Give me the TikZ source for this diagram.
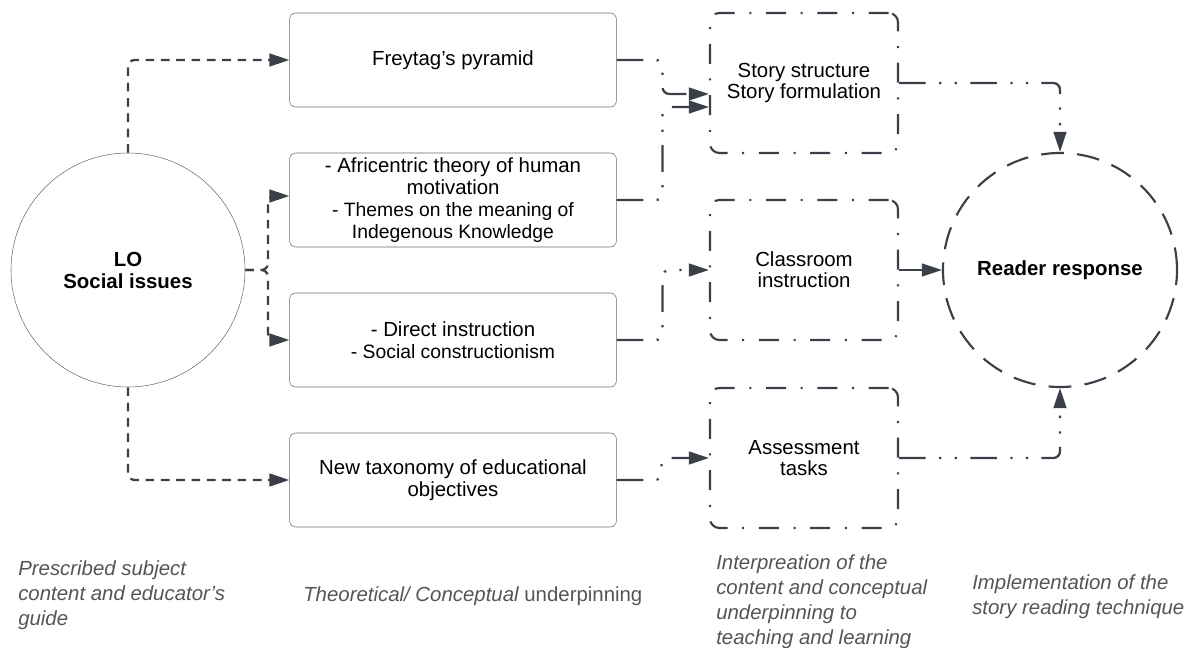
\documentclass[tikz,border=0pt]{standalone}
\usepackage{fontspec}
\setmainfont{Liberation Sans}
\usetikzlibrary{arrows.meta}
\definecolor{linkgray}{HTML}{3B4048}
\definecolor{boxgray}{HTML}{6A6A6A}
\definecolor{notegray}{HTML}{555555}
\tikzset{
    plain-box/.style = {draw=boxgray, fill=white, thin, rectangle, rounded corners=4.5pt, minimum width=245pt, minimum height=70.5pt, align=center, font=\fontsize{15.3}{16.5}\selectfont},
    dashdot-box/.style = {draw=linkgray, line width=1.6pt, rectangle, rounded corners=7pt, minimum width=141pt, minimum height=105pt, align=center, font=\fontsize{15.3}{16}\selectfont, dash pattern=on 15pt off 11pt on 1.5pt off 11pt},
    lo-circle/.style = {draw=boxgray, fill=white, thin, circle, minimum size=175.5pt, inner sep=0pt, align=center, font=\bfseries\fontsize{15.3}{16.5}\selectfont},
    reader-circle/.style = {draw=linkgray, line width=1.6pt, circle, minimum size=175.5pt, inner sep=0pt, dash pattern=on 17pt off 10pt, font=\bfseries\fontsize{15.3}{16.5}\selectfont},
    dashed-link/.style = {draw=linkgray, line width=1.7pt, dash pattern=on 6.5pt off 5pt, rounded corners=5pt, -{Triangle[length=15pt,width=9.5pt]}},
    dashdot-link/.style = {draw=linkgray, line width=1.7pt, dash pattern=on 20pt off 10pt on 1.7pt off 10pt on 1.7pt off 10pt, rounded corners=5pt, -{Triangle[length=15pt,width=9.5pt]}},
    note-text/.style = {text=notegray, anchor=north west, inner sep=0pt, align=left, font=\itshape\fontsize{15.3}{18.75}\selectfont},
}

\begin{document}
\begin{tikzpicture}[x=0.75pt, y=-0.75pt]
\useasboundingbox (0,0) rectangle (1196,648);

% left column
\node[lo-circle] (lo) at (128,270) {LO\\Social issues};

\node[plain-box] (freytag) at (453,60) {Freytag's pyramid};
\node[plain-box] (africentric) at (453,200) {- Africentric theory of human\\motivation\\
    \fontsize{14.5}{16.5}\selectfont - Themes on the meaning of\\
    \fontsize{14.5}{16.5}\selectfont Indegenous Knowledge};
\node[plain-box] (direct) at (453,340) {- Direct instruction\\
    \fontsize{14.5}{16.5}\selectfont - Social constructionism};
\node[plain-box] (taxonomy) at (453,480) {New taxonomy of educational\\objectives};

% interpretation column
\node[dashdot-box] (story) at (804,83) {Story structure\\Story formulation};
\node[dashdot-box] (classroom) at (804,270) {Classroom\\instruction};
\node[dashdot-box] (assessment) at (804,458) {Assessment\\tasks};

\node[reader-circle] (reader) at (1060,270) {Reader response};

% links from LO
\coordinate (fork) at (268,270);
\draw[dashed-link] (lo.north) |- (freytag.west);
\draw[dashed-link] (lo.east) -- (fork) |- ([yshift=3pt]africentric.west);
\draw[dashed-link] (lo.east) -- (fork) |- (direct.west);
\draw[dashed-link] (lo.south) |- (taxonomy.west);

% links to interpretation
\draw[dashdot-link] (freytag.east) -- ++(46,0) |- ([yshift=-8.25pt]story.west);
\draw[dashdot-link] (africentric.east) -- ++(46,0) |- ([yshift=-18pt]story.west);
\draw[dashdot-link] (direct.east) -- ++(46,0) |- (classroom.west);
\draw[dashdot-link] (taxonomy.east) -- ++(45,0) |- (assessment.west);

% links to reader response
\draw[dashdot-link] (story.east) -| (reader.north);
\draw[draw=linkgray, line width=1.7pt, -{Triangle[length=15pt,width=9.5pt]}] (classroom.east) -- (reader.west);
\draw[dashdot-link] (assessment.east) -| (reader.south);

% column notes
\node[note-text] (subject) at (18,560) {Prescribed subject\\content and educator's\\guide};
\node[note-text] (theory) at (303,586) {Theoretical/ Conceptual\upshape{} underpinning};
\node[note-text] (interpret) at (716,554) {Interpreation of the\\content and conceptual\\underpinning to\\teaching and learning};
\node[note-text] (implement) at (972,574) {Implementation of the\\story reading technique};
\end{tikzpicture}
\end{document}
